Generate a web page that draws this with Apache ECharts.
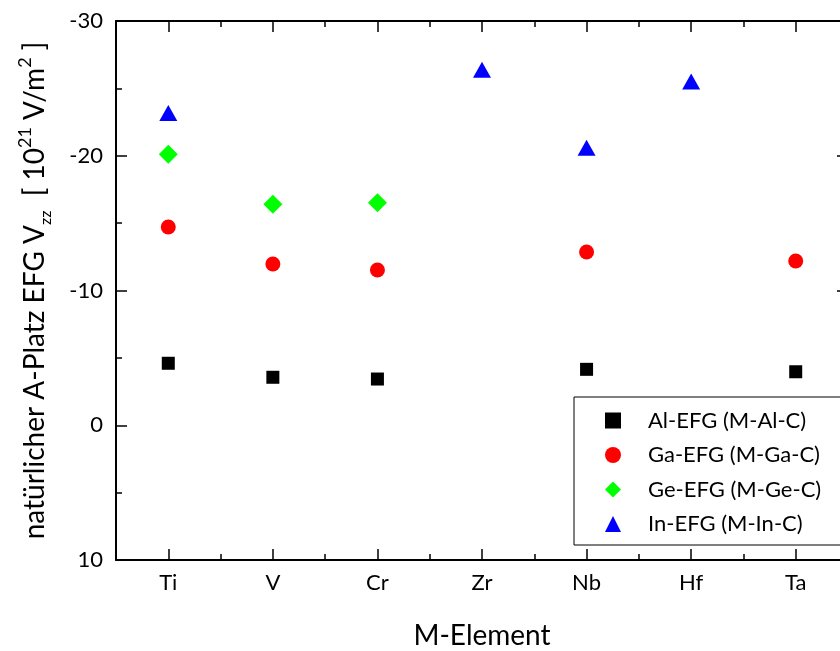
<!DOCTYPE html>
<html>
<head>
<meta charset="utf-8">
<script src="https://cdn.jsdelivr.net/npm/echarts@6/dist/echarts.min.js"></script>
<style>
  html, body { margin: 0; padding: 0; background: #fff; }
  #chart { width: 840px; height: 651px; }
</style>
</head>
<body>
<div id="chart"></div>
<script>
// M elements on the x axis
const categories = ['Ti', 'V', 'Cr', 'Zr', 'Nb', 'Hf', 'Ta'];

// natural A-site EFG Vzz in 10^21 V/m^2 (null = not computed)
const alValues = [-4.60, -3.56, -3.43, null, -4.15, null, -3.97];
const gaValues = [-14.71, -11.97, -11.52, null, -12.86, null, -12.19];
const geValues = [-20.11, -16.40, -16.52, null, null, null, null];
const inValues = [-23.17, null, null, -26.38, -20.60, -25.51, null];

// value axis range (drawn inverted: -30 on top, 10 at the bottom)
const yMin = -30;
const yMax = 10;
const yStep = 10;

const seriesNames = ['Al-EFG (M-Al-C)', 'Ga-EFG (M-Ga-C)', 'Ge-EFG (M-Ge-C)', 'In-EFG (M-In-C)'];

const FONT = 'Lato';
const axisColor = '#000';

const toData = arr => arr.map(v => (v === null ? '-' : v));

const baseCat = {
  type: 'category',
  data: categories,
  boundaryGap: true,
  splitLine: { show: false }
};

const chart = echarts.init(document.getElementById('chart'), null, { renderer: 'canvas' });

chart.setOption({
  backgroundColor: '#fff',
  animation: false,
  grid: { left: 116, top: 21, right: -8, bottom: 91, containLabel: false, outerBoundsMode: 'none' },
  xAxis: [
    Object.assign({}, baseCat, {
      position: 'bottom',
      axisLine: { show: true, onZero: false, lineStyle: { color: axisColor, width: 2 } },
      axisTick: { show: true, inside: true, alignWithLabel: true, length: 11, lineStyle: { color: axisColor, width: 1.5 } },
      axisLabel: { show: true, color: '#000', fontFamily: FONT, fontSize: 22, margin: 12 },
      name: 'M-Element',
      nameLocation: 'middle',
      nameGap: 62,
      nameTextStyle: { color: '#000', fontFamily: FONT, fontSize: 28 }
    }),
    Object.assign({}, baseCat, {
      position: 'bottom',
      axisLine: { show: false, onZero: false },
      axisTick: { show: true, inside: true, alignWithLabel: false, length: 6, lineStyle: { color: axisColor, width: 1.5 } },
      axisLabel: { show: false }
    }),
    Object.assign({}, baseCat, {
      position: 'top',
      axisLine: { show: true, onZero: false, lineStyle: { color: axisColor, width: 2 } },
      axisTick: { show: true, inside: true, alignWithLabel: true, length: 11, lineStyle: { color: axisColor, width: 1.5 } },
      axisLabel: { show: false }
    }),
    Object.assign({}, baseCat, {
      position: 'top',
      axisLine: { show: false, onZero: false },
      axisTick: { show: true, inside: true, alignWithLabel: false, length: 6, lineStyle: { color: axisColor, width: 1.5 } },
      axisLabel: { show: false }
    })
  ],
  yAxis: [
    {
      type: 'value',
      position: 'left',
      inverse: true,
      min: yMin,
      max: yMax,
      interval: yStep,
      splitLine: { show: false },
      axisLine: { show: true, onZero: false, lineStyle: { color: axisColor, width: 2 } },
      axisTick: { show: true, inside: true, length: 11, lineStyle: { color: axisColor, width: 1.5 } },
      minorTick: { show: true, splitNumber: 2, length: 6, lineStyle: { color: axisColor, width: 1.5 } },
      axisLabel: { show: true, color: '#000', fontFamily: FONT, fontSize: 22, margin: 13 },
      name: '{a|natürlicher A-Platz EFG V}{sub|zz}{a|  [ 10}{sup|21}{a| V/m}{sup|2}{a| ]}',
      nameLocation: 'middle',
      nameRotate: 90,
      nameGap: 62,
      nameTextStyle: {
        color: '#000',
        fontFamily: FONT,
        rich: {
          a: { fontFamily: FONT, fontSize: 28, color: '#000', lineHeight: 38 },
          sup: { fontFamily: FONT, fontSize: 18, color: '#000', verticalAlign: 'top', lineHeight: 20 },
          sub: { fontFamily: FONT, fontSize: 16, color: '#000', verticalAlign: 'bottom', lineHeight: 16 }
        }
      }
    },
    {
      type: 'value',
      position: 'right',
      inverse: true,
      min: yMin,
      max: yMax,
      interval: yStep,
      splitLine: { show: false },
      axisLine: { show: true, onZero: false, lineStyle: { color: axisColor, width: 2 } },
      axisTick: { show: true, inside: true, length: 11, lineStyle: { color: axisColor, width: 1.5 } },
      minorTick: { show: true, splitNumber: 2, length: 6, lineStyle: { color: axisColor, width: 1.5 } },
      axisLabel: { show: false }
    }
  ],
  legend: {
    orient: 'vertical',
    left: 574,
    top: 397,
    padding: [12.5, 25, 10, 31],
    itemGap: 12.5,
    itemWidth: 16,
    itemHeight: 16,
    borderColor: '#000',
    borderWidth: 1,
    backgroundColor: '#fff',
    textStyle: { color: '#000', fontFamily: FONT, fontSize: 22, lineHeight: 22, padding: [0, 0, 0, 22] },
    data: seriesNames
  },
  series: [
    {
      name: seriesNames[0], type: 'scatter', xAxisIndex: 0, yAxisIndex: 0,
      symbol: 'rect', symbolSize: 13,
      itemStyle: { color: '#000000', opacity: 1 },
      data: toData(alValues)
    },
    {
      name: seriesNames[1], type: 'scatter', xAxisIndex: 0, yAxisIndex: 0,
      symbol: 'circle', symbolSize: 15,
      itemStyle: { color: '#ff0000', opacity: 1 },
      data: toData(gaValues)
    },
    {
      name: seriesNames[2], type: 'scatter', xAxisIndex: 0, yAxisIndex: 0,
      symbol: 'diamond', symbolSize: [19, 19],
      itemStyle: { color: '#00ff00', opacity: 1 },
      data: toData(geValues)
    },
    {
      name: seriesNames[3], type: 'scatter', xAxisIndex: 0, yAxisIndex: 0,
      symbol: 'triangle', symbolSize: [18, 16],
      itemStyle: { color: '#0000ff', opacity: 1 },
      data: toData(inValues)
    }
  ]
});
</script>
</body>
</html>
